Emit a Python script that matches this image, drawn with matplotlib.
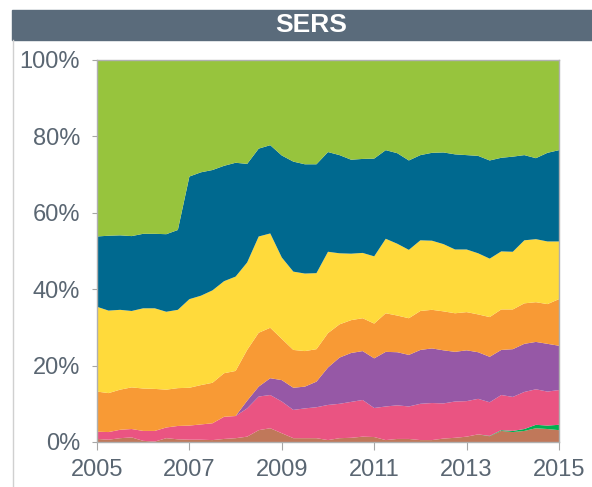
import matplotlib
matplotlib.use('Agg')
import matplotlib.pyplot as plt
from matplotlib.lines import Line2D
from matplotlib.patches import Rectangle
import numpy as np

plt.rcParams['font.family'] = ['Liberation Sans', 'DejaVu Sans']

# quarterly observations, 2005 Q1 .. 2015 Q1
quarters = np.arange(2005, 2015.01, 0.25)

# share of portfolio (%) by asset class, bottom to top
brown = [0.8, 0.6, 1.0, 1.2, 0.3, 0.1, 1.0, 0.7, 0.6, 0.6, 0.5,
         0.8, 1.0, 1.4, 3.1, 3.6, 2.3, 1.0, 1.0, 1.0, 0.5,
         1.0, 1.1, 1.4, 1.3, 0.5, 0.8, 0.8, 0.5, 0.5, 0.9,
         1.1, 1.4, 2.0, 1.5, 2.9, 2.6, 2.9, 3.6, 3.4, 3.1]
green = [0, 0, 0, 0, 0, 0, 0, 0, 0, 0, 0,
         0, 0, 0, 0, 0, 0, 0, 0, 0, 0,
         0, 0, 0, 0, 0, 0, 0, 0, 0, 0,
         0, 0, 0, 0.1, 0.2, 0.3, 0.5, 0.9, 0.9, 1.4]
pink = [1.9, 2.0, 2.2, 2.2, 2.6, 2.8, 2.8, 3.5, 3.7, 4.0, 4.4,
        5.8, 5.8, 7.4, 8.8, 8.7, 8.3, 7.4, 7.8, 8.1, 9.2,
        9.0, 9.4, 9.6, 7.6, 8.8, 8.8, 8.5, 9.5, 9.7, 9.2,
        9.5, 9.3, 9.3, 8.8, 9.2, 8.9, 9.7, 9.3, 8.9, 9.1]
purple = [0, 0, 0, 0, 0, 0, 0, 0, 0, 0, 0,
          0, 0, 2.0, 2.6, 4.4, 5.6, 5.8, 5.7, 6.7, 9.8,
          12.1, 12.8, 12.8, 13.0, 14.3, 13.9, 13.5, 14.1, 14.3, 13.9,
          13.0, 13.3, 12.2, 11.9, 11.8, 12.5, 12.6, 12.4, 12.5, 11.6]
orange = [10.5, 10.2, 10.5, 10.9, 11.1, 11.0, 9.9, 9.9, 9.9, 10.3, 10.6,
          11.4, 11.8, 13.3, 14.1, 13.2, 10.8, 9.9, 9.3, 8.5, 9.0,
          8.7, 8.6, 8.6, 9.1, 10.1, 9.6, 9.6, 10.2, 10.1, 10.2,
          10.1, 10.0, 9.9, 10.4, 10.6, 10.4, 10.6, 10.4, 10.4, 12.2]
yellow = [22.2, 21.6, 20.9, 20.0, 21.0, 21.1, 20.4, 20.5, 23.2, 23.4, 24.2,
          24.1, 24.7, 22.9, 25.2, 24.7, 21.3, 20.5, 20.3, 19.9, 21.3,
          18.6, 17.4, 17.1, 17.6, 19.5, 18.8, 17.9, 18.5, 18.1, 17.6,
          16.7, 16.4, 16.0, 15.3, 15.2, 15.1, 16.5, 16.5, 16.4, 15.1]
blue = [18.4, 19.6, 19.5, 19.6, 19.5, 19.5, 20.3, 20.9, 32.1, 32.3, 31.5,
        30.2, 29.8, 25.8, 23.0, 23.1, 26.7, 28.8, 28.6, 28.5, 26.1,
        25.7, 24.6, 24.6, 25.6, 23.2, 23.7, 23.4, 22.3, 23.0, 24.0,
        24.9, 24.7, 25.5, 25.7, 24.5, 24.9, 22.3, 21.2, 23.2, 23.9]
lime = [46.2, 46.0, 45.9, 46.1, 45.5, 45.5, 45.6, 44.5, 30.5, 29.4, 28.8,
        27.7, 26.9, 27.2, 23.2, 22.3, 25.0, 26.6, 27.3, 27.3, 24.1,
        24.9, 26.1, 25.9, 25.8, 23.6, 24.4, 26.3, 24.9, 24.3, 24.2,
        24.7, 24.9, 25.1, 26.3, 25.6, 25.3, 24.9, 25.7, 24.3, 23.6]

colors = ['#C0785A', '#00B050', '#EA5482', '#9658A6',
          '#F89A35', '#FFDA3B', '#00698F', '#97C43D']

year_ticks = [2005, 2007, 2009, 2011, 2013, 2015]
pct_ticks = [0, 20, 40, 60, 80, 100]

fig = plt.figure(figsize=(5.92, 4.87), dpi=100)

# title banner
fig.patches.append(Rectangle((12 / 592, 1 - 40 / 487), 1, 30 / 487,
                             transform=fig.transFigure, color='#5A6B7B'))
fig.text(0.525, 1 - 25 / 487, 'SERS', color='white', fontsize=19,
         fontweight='bold', ha='center', va='center')
fig.lines.append(Line2D([12.5 / 592, 12.5 / 592], [0, 1 - 40 / 487],
                        transform=fig.transFigure, color='#D0D0D0', lw=1))

ax = fig.add_axes([97 / 592, 45 / 487, 462 / 592, 382 / 487])
ax.stackplot(quarters, brown, green, pink, purple, orange, yellow, blue, lime,
             colors=colors, linewidth=0)

ax.set_xlim(2005, 2015)
ax.set_ylim(0, 100)
ax.set_xticks(year_ticks)
ax.set_xticklabels([str(y) for y in year_ticks])
ax.set_yticks(pct_ticks)
ax.set_yticklabels([f'{p}%' for p in pct_ticks])
ax.tick_params(axis='both', colors='#A6A6A6', labelcolor='#5A6672',
               labelsize=17)
ax.tick_params(axis='x', length=5.8, pad=6.4)
ax.tick_params(axis='y', length=3.6, pad=8.6)
for s in ax.spines.values():
    s.set_color('#B0B0B0')
    s.set_linewidth(1)

fig.savefig('out.png', dpi=100)
